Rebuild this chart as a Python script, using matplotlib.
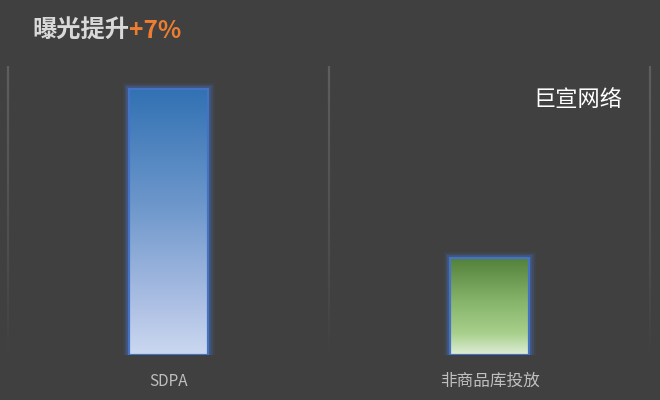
import numpy as np
import matplotlib
matplotlib.use("Agg")
import matplotlib.pyplot as plt
from matplotlib.colors import LinearSegmentedColormap, to_rgba
from matplotlib.collections import LineCollection

plt.rcParams['font.family'] = ['Noto Sans CJK SC', 'DejaVu Sans']

categories = ["SDPA", "非商品库投放"]
values = [100, 36.5]
title_main = "曝光提升"
title_accent = "+7%"
watermark = "巨宣网络"

BG = "#404040"
fig = plt.figure(figsize=(6.6, 4.0), dpi=100, facecolor=BG)
ax = fig.add_axes([8/660, 1 - 355/400, 642/660, (355 - 66)/400])
ax.set_facecolor(BG)
ax.set_xlim(-0.5, 1.5)
ymax = 100 * 289 / 266
ax.set_ylim(0, ymax)
for s in ax.spines.values():
    s.set_visible(False)
ax.set_yticks([])
ax.set_xticks(range(len(categories)))
ax.set_xticklabels(categories, color="#bfbfbf", fontsize=11)
ax.get_xticklabels()[1].set_fontsize(12)
ax.tick_params(axis='x', length=0, pad=13)

# fading separator lines
nseg = 60
ys = np.linspace(ymax, ymax * 0.0, nseg + 1)
for xb in [-0.5, 0.5, 1.5]:
    segs = [[(xb, ys[i]), (xb, ys[i + 1])] for i in range(nseg)]
    alphas = np.linspace(1.0, 0.0, nseg) ** 0.8
    cols = [(0.37, 0.37, 0.37, a) for a in alphas]
    lc = LineCollection(segs, colors=cols, linewidths=1.6, clip_on=False)
    ax.add_collection(lc)

cmaps = [
    LinearSegmentedColormap.from_list("b", [(0, "#3171b3"), (0.45, "#6f98cc"),
                                            (0.8, "#abbee3"), (1, "#cbd8f0")]),
    LinearSegmentedColormap.from_list("g", [(0, "#52803a"), (0.45, "#86b46a"),
                                            (0.78, "#a8d08c"), (1, "#e0eed8")]),
]
width = 79 / 321
grad = np.linspace(0, 1, 256).reshape(-1, 1)
for i, (v, cm) in enumerate(zip(values, cmaps)):
    # glow
    for lw, a in [(9, 0.10), (6.5, 0.15), (4.5, 0.25)]:
        ax.bar(i, v, width=width, facecolor="none",
               edgecolor=to_rgba("#4472c4", a), linewidth=lw, zorder=2)
    bar = ax.bar(i, v, width=width, facecolor="none", edgecolor="#4472c4",
                 linewidth=1.6, zorder=4)[0]
    im = ax.imshow(grad, cmap=cm, aspect='auto',
                   extent=[i - width/2, i + width/2, 0, v],
                   origin='upper', zorder=3)
    im.set_clip_path(bar)

ax.set_xlim(-0.5, 1.5)
ax.set_ylim(0, ymax)

# title
t1 = fig.text(32/660, 1 - 31/400, title_main, color="#d9d9d9", fontsize=17.5,
              fontweight='bold', va='center', ha='left')
fig.canvas.draw()
bb = t1.get_window_extent()
fig.text(bb.x1 / fig.bbox.width, 1 - 31/400, title_accent, color="#ed7d31",
         fontsize=17.5, fontweight='bold', va='center', ha='left')

fig.text(578/660, 1 - 100/400, watermark, color="white", fontsize=16,
         va='center', ha='center')

fig.savefig("out.png", dpi=100, facecolor=BG)
